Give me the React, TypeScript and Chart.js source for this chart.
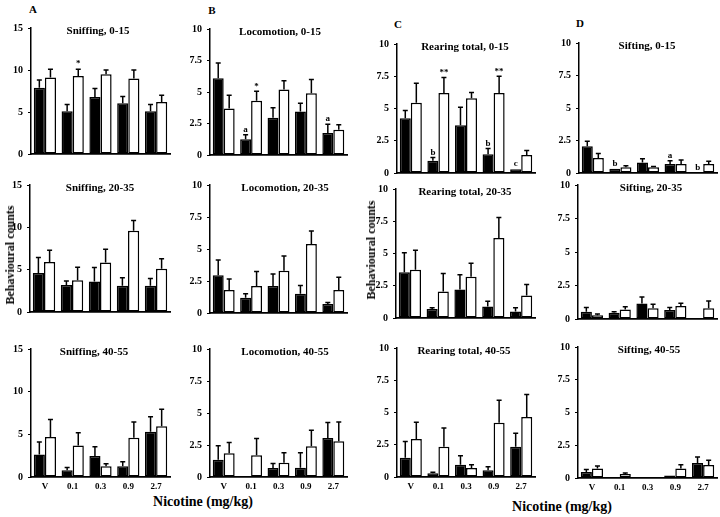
import React, { useEffect, useRef } from "react";
import { Chart, registerables } from "chart.js";
Chart.register(...registerables);

const doses = ["V", "0.1", "0.3", "0.9", "2.7"];

// Row 1 (0-15 min)
const sniff0Black = [7.9, 5.1, 6.8, 6.05, 5.1];
const sniff0BlackHi = [8.8, 5.9, 7.8, 6.85, 5.9];
const sniff0White = [9.1, 9.3, 9.5, 9.0, 6.2];
const sniff0WhiteHi = [10.1, 10.1, 10.0, 10.0, 7.0];
const sniff0MarkW = ["", "*", "", "", ""];

const loco0Black = [6.1, 1.25, 2.95, 3.45, 1.75];
const loco0BlackHi = [7.3, 1.6, 3.75, 4.1, 2.45];
const loco0White = [3.7, 4.3, 5.2, 4.9, 2.0];
const loco0WhiteHi = [4.75, 5.05, 5.9, 6.0, 2.4];
const loco0MarkB = ["", "a", "", "", "a"];
const loco0MarkW = ["", "*", "", "", ""];

const rear0Black = [4.25, 0.95, 3.7, 1.45, 0.3];
const rear0BlackHi = [4.85, 1.2, 5.1, 1.9, 0.3];
const rear0White = [5.45, 6.2, 5.8, 6.2, 1.4];
const rear0WhiteHi = [6.95, 7.4, 6.25, 7.5, 1.75];
const rear0MarkB = ["", "b", "", "b", "c"];
const rear0MarkW = ["", "**", "", "**", ""];

const sift0Black = [2.05, 0.33, 0.8, 0.7, 0];
const sift0BlackHi = [2.45, 0.33, 1.1, 0.95, 0];
const sift0White = [1.15, 0.45, 0.45, 0.7, 0.7];
const sift0WhiteHi = [1.5, 0.55, 0.5, 1.0, 0.9];
const sift0MarkB = ["", "b", "", "a", "b"];

// Row 2 (20-35 min)
const sniff20Black = [4.6, 3.2, 3.6, 3.1, 3.1];
const sniff20BlackHi = [6.45, 3.65, 5.25, 4.05, 3.95];
const sniff20White = [5.9, 3.75, 5.85, 9.6, 5.1];
const sniff20WhiteHi = [7.3, 5.3, 7.4, 10.8, 6.3];

const loco20Black = [2.95, 1.2, 2.1, 1.5, 0.7];
const loco20BlackHi = [4.15, 1.5, 3.05, 2.15, 0.83];
const loco20White = [1.8, 2.1, 3.3, 5.4, 1.8];
const loco20WhiteHi = [2.65, 3.25, 4.45, 6.4, 2.8];

const rear20Black = [3.55, 0.7, 2.2, 0.9, 0.5];
const rear20BlackHi = [5.05, 0.8, 3.35, 1.3, 0.8];
const rear20White = [3.75, 2.05, 3.2, 6.2, 1.75];
const rear20WhiteHi = [5.25, 3.45, 4.25, 7.8, 2.6];

const sift20Black = [0.55, 0.47, 1.15, 0.67, 0];
const sift20BlackHi = [0.85, 0.55, 1.65, 0.85, 0];
const sift20White = [0.28, 0.7, 0.8, 0.97, 0.8];
const sift20WhiteHi = [0.37, 0.92, 1.1, 1.17, 1.35];

// Row 3 (40-55 min)
const sniff40Black = [2.65, 0.8, 2.45, 1.25, 5.3];
const sniff40BlackHi = [4.1, 1.1, 3.55, 1.8, 7.05];
const sniff40White = [4.7, 3.7, 1.25, 4.6, 5.95];
const sniff40WhiteHi = [6.75, 5.2, 1.55, 6.45, 7.95];

const loco40Black = [1.35, 0, 0.7, 0.73, 3.05];
const loco40BlackHi = [2.45, 0, 1.05, 1.9, 4.25];
const loco40White = [1.85, 1.7, 1.12, 2.4, 2.8];
const loco40WhiteHi = [2.7, 3.0, 1.9, 3.65, 4.3];

const rear40Black = [1.5, 0.3, 0.95, 0.52, 2.35];
const rear40BlackHi = [2.75, 0.36, 1.65, 0.8, 3.4];
const rear40White = [2.95, 2.35, 0.7, 4.2, 4.65];
const rear40WhiteHi = [4.25, 3.8, 0.95, 5.95, 6.4];

const sift40Black = [0.45, 0, 0, 0.2, 1.15];
const sift40BlackHi = [0.65, 0, 0, 0.2, 1.6];
const sift40White = [0.72, 0.3, 0, 0.72, 1.0];
const sift40WhiteHi = [0.92, 0.38, 0, 1.02, 1.35];

// y-axis tick labels
const ticks15 = ["0", "5", "10", "15"];
const ticks10 = ["0", "2.5", "5", "7.5", "10"];

const none = ["", "", "", "", ""];
const FONT = "'Liberation Serif', 'Times New Roman', serif";

type PanelCfg = {
  title: string; max: number; ticks: string[];
  black: number[]; blackHi: number[]; white: number[]; whiteHi: number[];
  markB: string[]; markW: string[];
  L: number; R: number; T: number; B: number; titleX: number; showX: boolean;
};

const panels: PanelCfg[] = [
  { title: "Sniffing, 0-15", max: 15, ticks: ticks15, black: sniff0Black, blackHi: sniff0BlackHi, white: sniff0White, whiteHi: sniff0WhiteHi, markB: none, markW: sniff0MarkW, L: 31, R: 170, T: 28, B: 154, titleX: 98, showX: false },
  { title: "Locomotion, 0-15", max: 10, ticks: ticks10, black: loco0Black, blackHi: loco0BlackHi, white: loco0White, whiteHi: loco0WhiteHi, markB: loco0MarkB, markW: loco0MarkW, L: 210, R: 347, T: 29, B: 155, titleX: 280, showX: false },
  { title: "Rearing total, 0-15", max: 10, ticks: ticks10, black: rear0Black, blackHi: rear0BlackHi, white: rear0White, whiteHi: rear0WhiteHi, markB: rear0MarkB, markW: rear0MarkW, L: 397, R: 535, T: 44, B: 173, titleX: 465, showX: false },
  { title: "Sifting, 0-15", max: 10, ticks: ticks10, black: sift0Black, blackHi: sift0BlackHi, white: sift0White, whiteHi: sift0WhiteHi, markB: sift0MarkB, markW: none, L: 579, R: 717, T: 43, B: 173, titleX: 647, showX: false },

  { title: "Sniffing, 20-35", max: 15, ticks: ticks15, black: sniff20Black, blackHi: sniff20BlackHi, white: sniff20White, whiteHi: sniff20WhiteHi, markB: none, markW: none, L: 30, R: 170, T: 185, B: 312, titleX: 100, showX: false },
  { title: "Locomotion, 20-35", max: 10, ticks: ticks10, black: loco20Black, blackHi: loco20BlackHi, white: loco20White, whiteHi: loco20WhiteHi, markB: none, markW: none, L: 210, R: 347, T: 185, B: 313, titleX: 285, showX: false },
  { title: "Rearing total, 20-35", max: 10, ticks: ticks10, black: rear20Black, blackHi: rear20BlackHi, white: rear20White, whiteHi: rear20WhiteHi, markB: none, markW: none, L: 396, R: 535, T: 189, B: 318, titleX: 465, showX: false },
  { title: "Sifting, 20-35", max: 10, ticks: ticks10, black: sift20Black, blackHi: sift20BlackHi, white: sift20White, whiteHi: sift20WhiteHi, markB: none, markW: none, L: 578, R: 717, T: 185, B: 319, titleX: 651, showX: false },

  { title: "Sniffing, 40-55", max: 15, ticks: ticks15, black: sniff40Black, blackHi: sniff40BlackHi, white: sniff40White, whiteHi: sniff40WhiteHi, markB: none, markW: none, L: 31, R: 170, T: 349, B: 477, titleX: 94, showX: true },
  { title: "Locomotion, 40-55", max: 10, ticks: ticks10, black: loco40Black, blackHi: loco40BlackHi, white: loco40White, whiteHi: loco40WhiteHi, markB: none, markW: none, L: 210, R: 347, T: 349, B: 477, titleX: 285, showX: true },
  { title: "Rearing total, 40-55", max: 10, ticks: ticks10, black: rear40Black, blackHi: rear40BlackHi, white: rear40White, whiteHi: rear40WhiteHi, markB: none, markW: none, L: 397, R: 535, T: 348, B: 477, titleX: 464, showX: true },
  { title: "Sifting, 40-55", max: 10, ticks: ticks10, black: sift40Black, blackHi: sift40BlackHi, white: sift40White, whiteHi: sift40WhiteHi, markB: none, markW: none, L: 578, R: 717, T: 347, B: 478, titleX: 649, showX: true },
];

const Y_W = 30;
const PAD_T = 8;
const PAD_R = 4;

function Panel({ cfg }: { cfg: PanelCfg }) {
  const ref = useRef<HTMLCanvasElement>(null);
  const xH = cfg.showX ? 16 : 8;
  const width = Y_W + (cfg.R - cfg.L) + PAD_R;
  const height = PAD_T + (cfg.B - cfg.T) + xH;
  const canvasLeft = cfg.L - Y_W;
  const canvasTop = cfg.T - PAD_T;

  useEffect(() => {
    if (!ref.current) return;
    const extras = {
      id: "extras",
      afterDatasetsDraw(chart: any) {
        const ctx = chart.ctx;
        const y = chart.scales.y;
        chart.data.datasets.forEach((ds: any, di: number) => {
          const meta = chart.getDatasetMeta(di);
          meta.data.forEach((bar: any, i: number) => {
            const v = ds.data[i];
            const hi = ds.hi[i];
            const x = bar.x;
            ctx.save();
            ctx.strokeStyle = "#000";
            ctx.lineWidth = 1.5;
            if (hi > v) {
              const y0 = y.getPixelForValue(v);
              const y1 = y.getPixelForValue(hi);
              ctx.beginPath();
              ctx.moveTo(x, y0);
              ctx.lineTo(x, y1);
              ctx.moveTo(x - 2.5, y1);
              ctx.lineTo(x + 2.5, y1);
              ctx.stroke();
            }
            const m = ds.marks[i];
            if (m) {
              const top = y.getPixelForValue(Math.max(v, hi));
              ctx.fillStyle = "#000";
              ctx.font = `bold 9px ${FONT}`;
              ctx.textAlign = "center";
              ctx.textBaseline = "bottom";
              ctx.fillText(m, x, top - 0.5);
            }
            ctx.restore();
          });
        });
      },
      afterDraw(chart: any) {
        const ctx = chart.ctx;
        const y = chart.scales.y;
        ctx.save();
        ctx.fillStyle = "#000";
        ctx.font = `bold 10px ${FONT}`;
        ctx.textAlign = "right";
        ctx.textBaseline = "middle";
        cfg.ticks.forEach((t) => {
          ctx.fillText(t, chart.chartArea.left - 8, y.getPixelForValue(parseFloat(t)));
        });
        ctx.font = `bold 11px ${FONT}`;
        ctx.textAlign = "center";
        ctx.fillText(cfg.title, cfg.titleX - canvasLeft, chart.chartArea.top + 3);
        ctx.restore();
      },
    };

    const chart = new Chart(ref.current, {
      type: "bar",
      data: {
        labels: doses,
        datasets: [
          { data: cfg.black, backgroundColor: "#000", borderColor: "#000", borderWidth: 1.5, hi: cfg.blackHi, marks: cfg.markB } as any,
          { data: cfg.white, backgroundColor: "#fff", borderColor: "#000", borderWidth: 1.5, hi: cfg.whiteHi, marks: cfg.markW } as any,
        ],
      },
      options: {
        responsive: false,
        animation: false,
        layout: { padding: { top: PAD_T, right: PAD_R, left: 0, bottom: 0 } },
        plugins: { legend: { display: false }, tooltip: { enabled: false }, title: { display: false } },
        datasets: { bar: { categoryPercentage: 0.8, barPercentage: 1.0, borderSkipped: false } } as any,
        scales: {
          x: {
            offset: true,
            grid: { display: false, drawTicks: false },
            border: { display: true, color: "#000", width: 1.8 },
            ticks: { display: cfg.showX, autoSkip: false, maxRotation: 0, color: "#000", padding: 4, font: { family: FONT, size: 9, weight: "bold" } },
            afterFit: (s: any) => { s.height = xH; },
          },
          y: {
            min: 0,
            max: cfg.max,
            afterBuildTicks: (s: any) => {
              s.ticks = cfg.ticks.map((t) => ({ value: parseFloat(t) }));
            },
            ticks: { display: false },
            grid: { display: true, drawOnChartArea: false, drawTicks: true, tickLength: 3, color: "#000", lineWidth: 1 },
            border: { display: true, color: "#000", width: 1.5 },
            afterFit: (s: any) => { s.width = Y_W; },
          },
        },
      } as any,
      plugins: [extras],
    });
    return () => chart.destroy();
  }, []);

  return (
    <canvas
      ref={ref}
      width={width}
      height={height}
      style={{ position: "absolute", left: canvasLeft, top: canvasTop, width, height }}
    />
  );
}

const textBase: React.CSSProperties = {
  position: "absolute",
  fontFamily: FONT,
  fontWeight: "bold",
  color: "#000",
  whiteSpace: "nowrap",
  lineHeight: 1,
};

function Label({ x, y, size, text, rotate }: { x: number; y: number; size: number; text: string; rotate?: boolean }) {
  return (
    <div
      style={{
        ...textBase,
        left: x,
        top: y,
        fontSize: size,
        transform: `translate(-50%, -50%)${rotate ? " rotate(-90deg)" : ""}`,
      }}
    >
      {text}
    </div>
  );
}

export default function App() {
  return (
    <div style={{ position: "fixed", left: 0, top: 0, width: 720, height: 517, background: "#fff", overflow: "hidden" }}>
      {panels.map((p, i) => (
        <Panel key={i} cfg={p} />
      ))}
      <Label x={33} y={9} size={11} text="A" />
      <Label x={212} y={10} size={11} text="B" />
      <Label x={398} y={24} size={11} text="C" />
      <Label x={580} y={23} size={11} text="D" />
      <Label x={10} y={255} size={12} text="Behavioural counts" rotate />
      <Label x={371} y={250} size={12} text="Behavioural counts" rotate />
      <Label x={203} y={502} size={14} text="Nicotine (mg/kg)" />
      <Label x={562} y={507} size={14} text="Nicotine (mg/kg)" />
    </div>
  );
}
